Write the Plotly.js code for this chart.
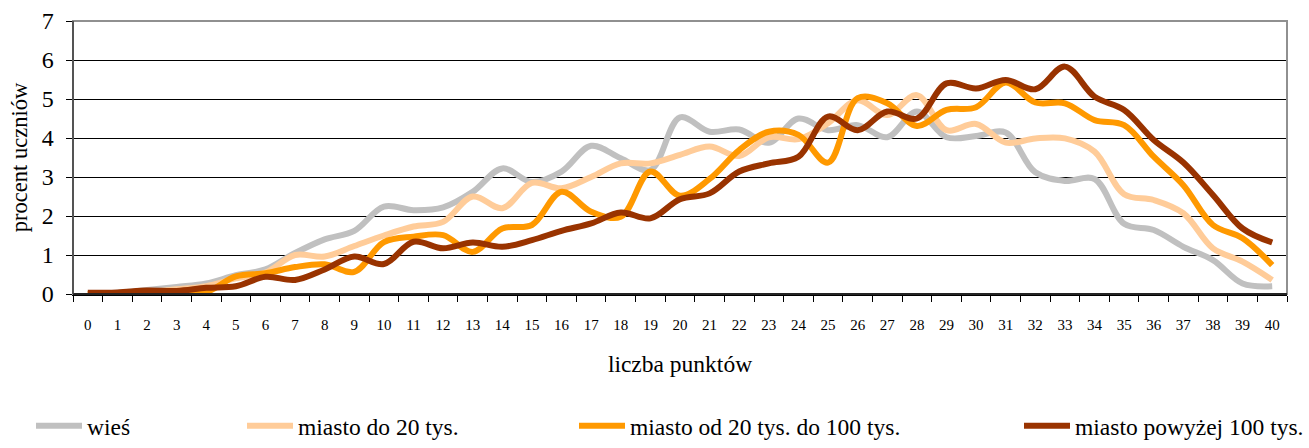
<!DOCTYPE html>
<html>
<head>
<meta charset="utf-8">
<script src="https://cdn.plot.ly/plotly-3.0.1.min.js"></script>
<style>
  html, body { margin: 0; padding: 0; background: #fff; }
  #chart { width: 1309px; height: 448px; }
</style>
</head>
<body>
<div id="chart"></div>
<script>
const categories = ['0','1','2','3','4','5','6','7','8','9','10','11','12','13','14','15','16','17','18','19','20',
  '21','22','23','24','25','26','27','28','29','30','31','32','33','34','35','36','37','38','39','40'];

const seriesNames = ['wieś', 'miasto do 20 tys.', 'miasto od 20 tys. do 100 tys.', 'miasto powyżej 100 tys.'];

const wies = [0, 0.03, 0.1, 0.18, 0.27, 0.48, 0.63, 1.05, 1.4, 1.62, 2.24, 2.15, 2.22, 2.62, 3.22, 2.87, 3.14, 3.8, 3.48, 3.18,
  4.53, 4.16, 4.22, 3.88, 4.5, 4.2, 4.33, 4.02, 4.68, 4.02, 4.05, 4.14, 3.12, 2.9, 2.95, 1.8, 1.64, 1.21, 0.87, 0.27, 0.2];

const miastoDo20 = [0, 0.02, 0.05, 0.12, 0.2, 0.4, 0.55, 1.0, 0.96, 1.23, 1.5, 1.73, 1.85, 2.5, 2.2, 2.85, 2.71, 3.0, 3.35, 3.35,
  3.57, 3.78, 3.54, 4.02, 3.97, 4.38, 4.97, 4.59, 5.1, 4.2, 4.36, 3.88, 3.99, 3.99, 3.65, 2.56, 2.41, 2.07, 1.17, 0.83, 0.36];

const miasto20do100 = [0, 0, 0, 0, 0.05, 0.45, 0.53, 0.69, 0.76, 0.57, 1.33, 1.47, 1.51, 1.08, 1.68, 1.77, 2.62, 2.11, 1.98, 3.14,
  2.52, 2.95, 3.69, 4.16, 4.08, 3.37, 5.02, 4.89, 4.31, 4.72, 4.79, 5.42, 4.91, 4.89, 4.46, 4.33, 3.52, 2.79, 1.77, 1.43, 0.74];

const miastoPow100 = [0.03, 0.04, 0.09, 0.08, 0.16, 0.2, 0.44, 0.36, 0.63, 0.96, 0.77, 1.34, 1.17, 1.32, 1.21, 1.38, 1.62, 1.81, 2.09, 1.94,
  2.43, 2.58, 3.14, 3.35, 3.52, 4.55, 4.2, 4.68, 4.5, 5.4, 5.27, 5.49, 5.25, 5.83, 5.06, 4.72, 3.95, 3.37, 2.54, 1.68, 1.32];

const yTicks = [0, 1, 2, 3, 4, 5, 6, 7];

const seriesValues = [wies, miastoDo20, miasto20do100, miastoPow100];
const colors = ['#C0C0C0', '#FFCC99', '#FF9900', '#993300'];
const legendIds = ['legend', 'legend2', 'legend3', 'legend4'];

const FONT = '"Liberation Serif", "Times New Roman", serif';

const traces = seriesValues.map((vals, i) => ({
  type: 'scatter',
  mode: 'lines',
  x: categories,
  y: vals,
  name: seriesNames[i],
  legend: legendIds[i],
  line: { color: colors[i], width: 6, shape: 'spline', smoothing: 1 },
  hoverinfo: 'skip'
}));

// left edges (px) of the four legend boxes
const legPx = [31, 242, 574, 1019];
function legendObj(px) {
  return {
    x: px / 1309, xref: 'container', xanchor: 'left',
    y: 0, yref: 'container', yanchor: 'bottom',
    orientation: 'h',
    itemwidth: 46,
    font: { family: FONT, size: 23.5, color: '#000' },
    bgcolor: 'rgba(0,0,0,0)'
  };
}

const layout = {
  width: 1309, height: 448,
  margin: { l: 73, r: 22, t: 21, b: 154 },
  paper_bgcolor: '#fff',
  plot_bgcolor: '#fff',
  font: { family: FONT, color: '#000' },
  showlegend: true,
  legend: legendObj(legPx[0]),
  legend2: legendObj(legPx[1]),
  legend3: legendObj(legPx[2]),
  legend4: legendObj(legPx[3]),
  xaxis: {
    type: 'category',
    categoryorder: 'array',
    categoryarray: categories,
    range: [-0.5, 40.5],
    tickson: 'boundaries',
    ticks: 'outside',
    ticklen: 6,
    tickcolor: '#000',
    tickwidth: 1,
    ticklabelstandoff: 16,
    showgrid: false,
    showline: true,
    linecolor: '#000',
    linewidth: 1.5,
    tickfont: { family: FONT, size: 15, color: '#000' },
    title: { text: 'liczba punktów', font: { family: FONT, size: 23.5, color: '#000' }, standoff: 24 },
    zeroline: false,
    fixedrange: true
  },
  yaxis: {
    range: [0, 7],
    tickvals: yTicks,
    ticktext: yTicks.map(String),
    ticks: 'outside',
    ticklen: 6,
    tickcolor: '#000',
    ticklabelstandoff: 7,
    showgrid: true,
    gridcolor: '#000',
    gridwidth: 1,
    showline: true,
    linecolor: '#404040',
    linewidth: 1.5,
    zeroline: false,
    tickfont: { family: FONT, size: 24, color: '#000' },
    title: { text: 'procent uczniów', font: { family: FONT, size: 22.5, color: '#000' }, standoff: 8 },
    fixedrange: true
  },
  shapes: [{
    type: 'rect', xref: 'paper', yref: 'paper', x0: 0, x1: 1, y0: 0, y1: 1,
    line: { color: '#909090', width: 2 }, layer: 'above'
  }, {
    type: 'line', xref: 'paper', yref: 'paper', x0: 0, x1: 1, y0: 0, y1: 0,
    line: { color: '#000', width: 1.5 }, layer: 'above'
  }, {
    type: 'line', xref: 'paper', yref: 'paper', x0: 0, x1: 0, y0: 0, y1: 1,
    line: { color: '#404040', width: 1.5 }, layer: 'above'
  }]
};

Plotly.newPlot('chart', traces, layout, { displayModeBar: false, staticPlot: true });
</script>
</body>
</html>
